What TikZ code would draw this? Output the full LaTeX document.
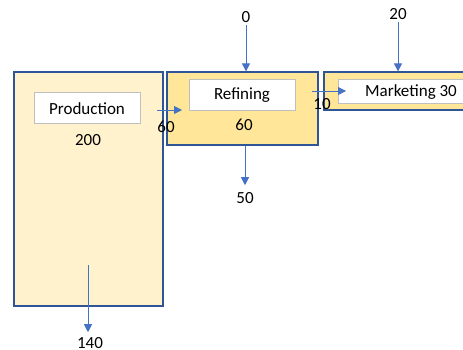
\documentclass[tikz,border=0pt]{standalone}
\usepackage{fontspec}
\setmainfont{Carlito}
\usetikzlibrary{arrows.meta}
\definecolor{boxline}{HTML}{2F5597}
\definecolor{paleyellow}{HTML}{FFF2CC}
\definecolor{goldyellow}{HTML}{FFE699}
\definecolor{flowblue}{HTML}{4472C4}
\definecolor{labelgrey}{HTML}{BFBFBF}
\begin{document}
\begin{tikzpicture}[x=1pt,y=-1pt]

\tikzset{every node/.style={font=\fontsize{17}{20}\selectfont, inner sep=2pt},
         unitbox/.style={draw=boxline, line width=1.2pt},
         namebox/.style={draw=labelgrey, fill=white, line width=1pt},
         flow/.style={draw=flowblue, line width=0.8pt, -{Triangle[width=8pt,length=8pt]}}}

\useasboundingbox (0,0) rectangle (463,350);

% units
\node[unitbox, fill=paleyellow, minimum width=149pt, minimum height=234pt] (prodbox) at (88.5,189) {};
\node[unitbox, fill=goldyellow, minimum width=151pt, minimum height=73pt] (refbox) at (242.5,108.5) {};
\node[unitbox, fill=goldyellow, minimum width=146pt, minimum height=38pt] (mktbox) at (397,91) {};

\node[namebox, minimum width=106pt, minimum height=31pt] (prodname) at (87,108.5) {Production};
\node[namebox, minimum width=106pt, minimum height=31pt] (refname) at (242,95.5) {Refining};
\node[namebox, minimum width=146pt, minimum height=24pt] (mktname) at (411,92) {Marketing 30};

\node (prodval) at (88,140) {200};
\node (refval) at (244,125) {60};

% flows
\node (inzero) at (246,17) {0};
\node (inmkt) at (398,14) {20};
\node (outref) at (245,198) {50};
\node (outprod) at (90,343) {140};
\node (prodtoref) at (166,127) {60};
\node (reftomkt) at (322,104) {10};

\coordinate (prodout) at (157,110);
\coordinate (refin) at (182,110);
\coordinate (refout) at (312,91);
\coordinate (mktin) at (346,91);
\coordinate (prodsink) at (88,265);

\draw[flow] (prodout) -- (refin);
\draw[flow] (refout) -- (mktin);
\draw[flow] (inzero.south) -- (inzero.south |- refbox.north);
\draw[flow] (inmkt.south) -- (inmkt.south |- mktbox.north);
\draw[flow, shorten >=5pt] (outref.north |- refbox.south) -- (outref.north);
\draw[flow, shorten >=3pt] (prodsink) -- (prodsink |- outprod.north);

\end{tikzpicture}
\end{document}
